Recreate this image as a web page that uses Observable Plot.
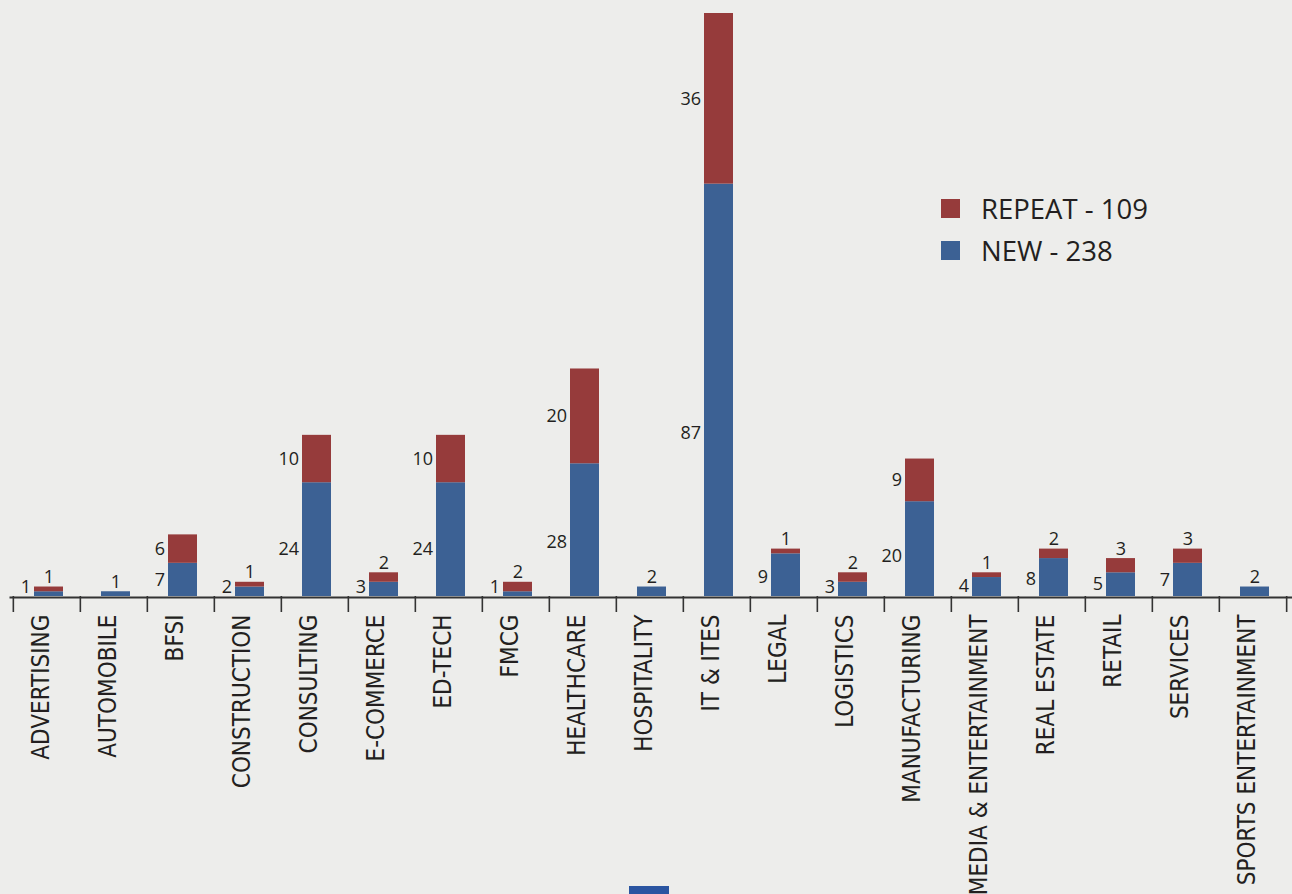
<!DOCTYPE html>
<html>
<head>
<meta charset="utf-8">
<script src="https://cdn.jsdelivr.net/npm/d3@7"></script>
<script src="https://cdn.jsdelivr.net/npm/@observablehq/plot@0.6"></script>
<style>
  html, body { margin: 0; padding: 0; background: #ededeb; overflow: hidden; }
  #wrap { position: relative; width: 1292px; height: 894px; }
  #legend { position: absolute; left: 941px; top: 199px; font-family: "Open Sans", sans-serif; font-size: 27.5px; color: #231f20; }
  .item { display: flex; align-items: center; height: 19px; margin-bottom: 23px; }
  .sw { width: 19px; height: 19px; margin-right: 21px; flex: none; }
  .item span { line-height: 19px; white-space: nowrap; }
  #stub { position: absolute; left: 629px; top: 886px; width: 40px; height: 8px; background: #2b55a1; }
</style>
</head>
<body>
<div id="wrap">
  <div id="chart"></div>
  <div id="legend"></div>
  <div id="stub"></div>
</div>
<script>
const categories = ["ADVERTISING","AUTOMOBILE","BFSI","CONSTRUCTION","CONSULTING","E-COMMERCE","ED-TECH","FMCG","HEALTHCARE","HOSPITALITY","IT & ITES","LEGAL","LOGISTICS","MANUFACTURING","MEDIA & ENTERTAINMENT","REAL ESTATE","RETAIL","SERVICES","SPORTS ENTERTAINMENT"];
const newValues    = [1,1,7,2,24,3,24,1,28,2,87,9,3,20,4,8,5,7,2];
const repeatValues = [1,0,6,1,10,2,10,2,20,0,36,1,2,9,1,2,3,3,0];
const seriesNames  = ["REPEAT","NEW"];
const seriesColors = ["#963b3b","#3c6194"];

const W = 1292, H = 894, mL = 9.5, mR = 3.5, mT = 13, mB = 298;
const step = (W - mL - mR) / categories.length;

// long-format table for stacking
const rows = [];
categories.forEach((c, i) => {
  rows.push({category: c, series: "NEW", value: newValues[i]});
  rows.push({category: c, series: "REPEAT", value: repeatValues[i]});
});

// label placement derived from the values
const leftLabels = [], topLabels = [];
categories.forEach((c, i) => {
  const n = newValues[i], r = repeatValues[i];
  if (r === 0) {
    topLabels.push({category: c, y: n, text: String(n)});
  } else {
    leftLabels.push({category: c, y: Math.max(0.39 * n + 0.6, 2.0), text: String(n)});
    if (r >= 6) leftLabels.push({category: c, y: n + r / 2, text: String(r)});
    else topLabels.push({category: c, y: n + r, text: String(r)});
  }
});

const labelFont = {fontFamily: "'Open Sans', sans-serif", fontSize: 18, fill: "#231f20"};

const chart = Plot.plot({
  width: W, height: H,
  marginTop: mT, marginBottom: mB, marginLeft: mL, marginRight: mR,
  style: {background: "transparent", overflow: "visible"},
  x: {domain: categories, paddingInner: 0.57, paddingOuter: 0.285, label: null},
  y: {domain: [0, 123], axis: null, label: null},
  color: {domain: seriesNames, range: seriesColors},
  marks: [
    Plot.barY(rows, {x: "category", y: "value", fill: "series", order: ["NEW","REPEAT"], dx: 2}),
    Plot.ruleY([0], {stroke: "#333", strokeWidth: 2, dy: 1, insetRight: -4}),
    Plot.axisX({tickSize: 16, tickPadding: 0, tickFormat: () => "", label: null, dx: -step / 2, stroke: "#333", strokeWidth: 1.6}),
    Plot.axisX([categories[categories.length - 1]], {tickSize: 16, tickPadding: 0, tickFormat: () => "", label: null, dx: step / 2, stroke: "#333", strokeWidth: 1.6}),
    Plot.text(categories, {x: d => d, text: d => d, frameAnchor: "bottom", rotate: -90, textAnchor: "end", dy: 18, dx: 2,
      fontFamily: "'DejaVu Sans Condensed', 'DejaVu Sans', sans-serif", fontSize: 24, fill: "#231f20"}),
    Plot.text(leftLabels, {x: "category", y: "y", text: "text", textAnchor: "end", dx: -16, ...labelFont}),
    Plot.text(topLabels, {x: "category", y: "y", text: "text", lineAnchor: "bottom", dy: -4, dx: 2, ...labelFont})
  ]
});
document.getElementById("chart").appendChild(chart);

// legend
const totals = {REPEAT: d3.sum(repeatValues), NEW: d3.sum(newValues)};
const legend = document.getElementById("legend");
seriesNames.forEach((s, i) => {
  const item = document.createElement("div");
  item.className = "item";
  const sw = document.createElement("div");
  sw.className = "sw";
  sw.style.background = seriesColors[i];
  const t = document.createElement("span");
  t.textContent = `${s} - ${totals[s]}`;
  item.appendChild(sw);
  item.appendChild(t);
  legend.appendChild(item);
});
</script>
</body>
</html>
